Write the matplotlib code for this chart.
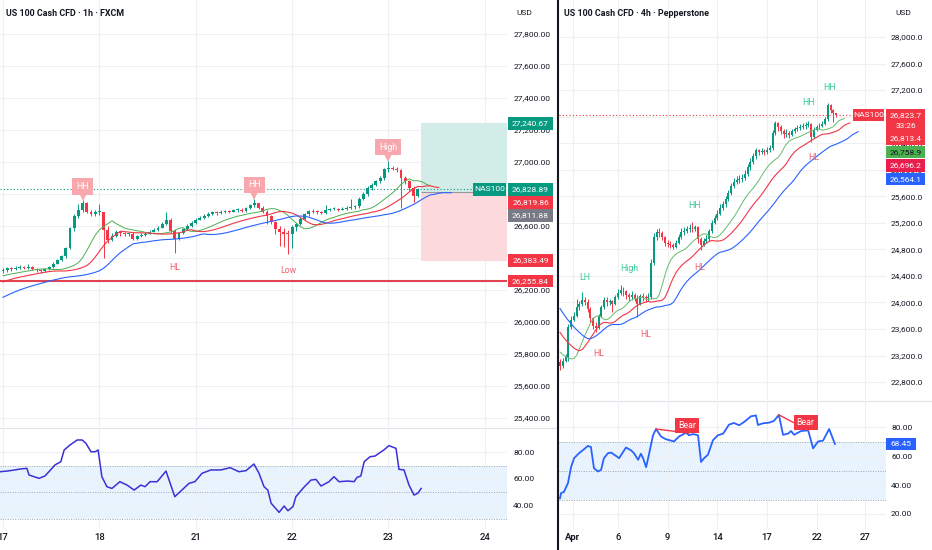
import matplotlib
matplotlib.use('Agg')
import matplotlib.pyplot as plt
import matplotlib.transforms as mtransforms
from matplotlib.patches import Rectangle
from matplotlib.lines import Line2D
import numpy as np

plt.rcParams['font.family'] = ['Roboto', 'DejaVu Sans']

W, H = 932, 550
UP = '#089981'
DOWN = '#f23645'
TXT = '#131722'
GRID = '#eef0f4'

# ---------------- left chart: US100 1h (FXCM) ----------------
l_open0 = 26320
l_close = [26325, 26335, 26330, 26338, 26342, 26340, 26345, 26330, 26322, 26316,
           26330, 26345, 26365, 26385, 26410, 26460, 26585, 26660, 26700, 26745,
           26690, 26672, 26685, 26690, 26575, 26515, 26540, 26560, 26555, 26548,
           26552, 26520, 26535, 26545, 26550, 26565, 26575, 26588, 26610, 26640,
           26570, 26520, 26555, 26580, 26600, 26620, 26640, 26652, 26665, 26675,
           26685, 26680, 26688, 26694, 26690, 26698, 26702, 26696, 26712, 26730,
           26742, 26715, 26690, 26662, 26625, 26580, 26560, 26552, 26548, 26595,
           26612, 26645, 26672, 26692, 26690, 26688, 26680, 26698, 26705, 26708,
           26702, 26707, 26712, 26716, 26722, 26770, 26800, 26838, 26855, 26880,
           26898, 26955, 26962, 26958, 26950, 26900, 26880, 26835, 26790, 26829]
l_high = [26340, 26345, 26345, 26350, 26355, 26352, 26360, 26350, 26340, 26330,
          26338, 26352, 26372, 26395, 26420, 26470, 26595, 26675, 26740, 26760,
          26750, 26700, 26700, 26740, 26690, 26600, 26555, 26575, 26570, 26565,
          26565, 26560, 26545, 26555, 26560, 26575, 26585, 26600, 26625, 26685,
          26650, 26580, 26565, 26590, 26610, 26630, 26650, 26662, 26675, 26685,
          26695, 26692, 26698, 26702, 26700, 26708, 26712, 26715, 26720, 26740,
          26768, 26745, 26725, 26700, 26670, 26630, 26600, 26590, 26575, 26605,
          26620, 26655, 26680, 26700, 26705, 26700, 26695, 26730, 26715, 26718,
          26715, 26716, 26722, 26770, 26732, 26780, 26810, 26850, 26870, 26890,
          26910, 26965, 27005, 26975, 26966, 26956, 26910, 26885, 26850, 26840]
l_low = [26305, 26315, 26320, 26325, 26330, 26330, 26332, 26322, 26312, 26305,
         26310, 26325, 26340, 26360, 26380, 26400, 26455, 26570, 26650, 26690,
         26680, 26660, 26665, 26670, 26400, 26495, 26505, 26530, 26540, 26535,
         26540, 26510, 26515, 26530, 26540, 26550, 26560, 26570, 26585, 26605,
         26555, 26430, 26515, 26550, 26575, 26595, 26615, 26635, 26645, 26658,
         26668, 26670, 26675, 26682, 26680, 26685, 26690, 26685, 26690, 26705,
         26720, 26705, 26680, 26610, 26610, 26550, 26475, 26470, 26425, 26460,
         26570, 26605, 26640, 26665, 26680, 26678, 26672, 26675, 26692, 26698,
         26694, 26698, 26700, 26704, 26708, 26712, 26762, 26790, 26828, 26848,
         26870, 26890, 26940, 26948, 26940, 26710, 26860, 26820, 26750, 26780]
l_seeds = [26280, 26240, 26140]   # lips, teeth, jaw start values

l_rsi_bar = [-0.7, 1, 2.6, 4.1, 5.7, 6.2, 7.4, 8.6, 10, 11.2, 12.4, 13.8, 14.6, 16, 17.7,
             18.9, 19.8, 21, 22, 22.7, 23.6, 24.8, 26, 27.9, 29.6, 31.3, 32.9, 33.9, 35.1,
             36.8, 38.9, 41, 42.7, 44.4, 45.8, 47.5, 49.6, 52, 54.2, 56.3, 58, 59.9, 61.1,
             62.3, 63.2, 64, 65.9, 67.1, 68, 69.2, 69.9, 71.8, 73.5, 74.7, 75.9, 77.8, 79,
             80.2, 82.3, 83.8, 84.5, 85.4, 86.2, 87.6, 88.8, 89.7, 90.9, 92.1, 93.8, 94.5,
             95.7, 96.9, 98.1, 99, 99.8]
l_rsi = [65.4, 65.9, 66.6, 67.4, 67.9, 63.0, 61.7, 60.5, 62.2, 66.2, 70.4, 72.8, 81.5, 85.2,
         88.9, 88.9, 86.4, 80.2, 80.2, 81.5, 61.7, 54.3, 53.0, 58.0, 55.5, 51.8, 55.5, 54.3,
         58.0, 58.0, 65.9, 46.9, 51.8, 56.8, 58.0, 64.2, 66.7, 66.7, 68.4, 65.4, 66.2, 71.1,
         64.2, 54.3, 51.8, 42.0, 35.3, 40.0, 36.5, 39.5, 46.9, 53.8, 59.2, 59.7, 54.8, 58.0,
         61.7, 58.0, 58.5, 58.0, 61.2, 62.2, 72.8, 76.5, 77.0, 79.0, 81.5, 84.7, 82.7, 67.2,
         66.7, 55.5, 48.1, 49.4, 53.0]

l_day_bar = [0, 23, 46, 69, 92, 115]
l_day_lbl = ['17', '18', '21', '22', '23', '24']
l_price_ticks = list(range(25400, 27801, 200))

l_last = 26828.89
l_support = 26255.84
l_entry, l_target, l_stop = 26811.88, 27240.67, 26383.49
l_pos_start = 99.8

# ---------------- right chart: US100 4h (Pepperstone) ----------------
r_open0 = 23100
r_close = [23040, 23120, 23180, 23630, 23740, 23800, 23930, 23970, 24040, 24010,
           23900, 23760, 23640, 23620, 23800, 23930, 24040, 24000, 24020, 23980,
           24080, 24150, 24190, 24170, 24110, 24080, 24120, 24060, 23980, 24100,
           24080, 24070, 24080, 24600, 24990, 25060, 25040, 24980, 24900, 24880,
           24860, 24840, 24900, 24990, 25060, 25080, 25100, 25120, 25110, 25130,
           24950, 24870, 24930, 24960, 25080, 25200, 25270, 25340, 25420, 25480,
           25560, 25650, 25760, 25820, 25840, 25860, 25880, 25940, 26040, 26120,
           26200, 26290, 26260, 26280, 26270, 26300, 26330, 26560, 26700, 26640,
           26590, 26540, 26560, 26530, 26580, 26610, 26630, 26650, 26660, 26670,
           26690, 26500, 26600, 26640, 26660, 26690, 26760, 26970, 26900, 26850,
           26824]
r_high = [23150, 23170, 23230, 23680, 23790, 23860, 24050, 24030, 24160, 24080,
          24050, 23930, 23780, 23700, 23830, 23960, 24080, 24080, 24060, 24040,
          24120, 24200, 24270, 24230, 24190, 24150, 24170, 24150, 24120, 24130,
          24140, 24120, 24140, 24650, 25040, 25100, 25120, 25070, 25000, 24940,
          24920, 24900, 24940, 25030, 25120, 25140, 25160, 25180, 25210, 25170,
          25150, 24980, 24970, 25010, 25110, 25250, 25320, 25400, 25480, 25530,
          25600, 25690, 25800, 25870, 25900, 25920, 25930, 25990, 26090, 26170,
          26250, 26330, 26320, 26330, 26320, 26340, 26370, 26600, 26740, 26720,
          26680, 26620, 26610, 26590, 26620, 26650, 26680, 26690, 26700, 26720,
          26740, 26710, 26640, 26680, 26700, 26730, 26800, 27010, 26990, 26920,
          26860]
r_low = [22990, 23020, 23100, 23120, 23600, 23720, 23780, 23890, 23950, 23960,
         23860, 23700, 23600, 23560, 23600, 23780, 23900, 23950, 23960, 23850,
         23960, 24050, 24120, 24100, 24060, 24030, 24040, 24020, 23780, 23960,
         24020, 24000, 24030, 24060, 24560, 24940, 24980, 24940, 24850, 24830,
         24820, 24800, 24820, 24880, 24960, 25020, 25040, 25060, 25060, 25070,
         24900, 24790, 24850, 24900, 24930, 25050, 25180, 25240, 25320, 25400,
         25440, 25530, 25620, 25720, 25780, 25800, 25820, 25840, 25900, 26000,
         26090, 26160, 26220, 26230, 26220, 26240, 26270, 26300, 26520, 26580,
         26540, 26480, 26500, 26480, 26510, 26560, 26580, 26600, 26610, 26620,
         26640, 26420, 26480, 26580, 26610, 26640, 26670, 26740, 26850, 26720,
         26800]
r_seeds = [23300, 23620, 23980]

r_rsi_bar = [0, 0.4, 1.4, 2.9, 4, 5.1, 6.9, 8.7, 10.1, 11.2, 12.3, 13.8, 14.9, 15.9, 17.4,
             18.5, 20.3, 21.4, 23.9, 25.7, 26.8, 28.3, 29.3, 30.1, 31.2, 32.2, 33.7, 34.8,
             36.6, 38.4, 40.2, 41.3, 43.1, 45.7, 46.7, 48.2, 50, 51.1, 52.2, 53.6, 55.4, 57.2,
             59.1, 61.2, 63, 64.9, 66.7, 69.2, 71, 71.7, 73.6, 75.7, 77.5, 79.3, 80.8, 82.6,
             83.7, 84.8, 87.3, 89.9, 91.7, 93.5, 95.3, 97.5, 99.6]
r_rsi = [30.9, 34.5, 35.2, 41.4, 52.4, 58.6, 62.1, 64.8, 67.1, 66.4, 51.7, 49.4, 50.6, 58.6,
         62.1, 62.5, 60.2, 58.6, 66.0, 64.1, 62.1, 57.5, 61.7, 58.6, 52.4, 61.0, 74.5, 78.8,
         73.6, 71.7, 70.8, 70.2, 73.6, 76.3, 74.5, 75.3, 74.5, 56.0, 58.6, 61.0, 71.0, 74.5,
         75.6, 81.8, 83.0, 81.4, 83.7, 87.6, 88.2, 81.6, 82.8, 83.2, 84.4, 88.6, 74.8, 75.6,
         77.4, 74.8, 77.4, 77.9, 65.4, 70.2, 70.8, 78.8, 68.45]
r_bear = [((34.8, 78.8), (46.7, 76.0)), ((79.3, 88.6), (89.9, 78.0))]
r_bear_lbl = [(46.0, 81.4), (89.0, 83.3)]

r_day_bar = [4.7, 21, 39, 57, 75, 93, 110.5]
r_day_lbl = ['Apr', '6', '9', '14', '17', '22', '27']
r_price_ticks = list(range(22800, 28001, 400))
r_last = 26823.7

# swing labels (bar, price, text)
l_swing_boxes = [(19, 'HH'), (60, 'HH'), (92, 'High')]
l_swing_text = [(41, 26338, 'HL'), (68, 26319, 'Low')]
r_swing_up = [(97.5, 27232, 'HH'), (89.9, 27006, 'HH'), (48.9, 25454, 'HH'),
              (25, 24505, 'High'), (9, 24384, 'LH')]
r_swing_dn = [(92, 26192, 'HL'), (50.7, 24520, 'HL'), (31.2, 23525, 'HL'), (14.1, 23239, 'HL')]

fig = plt.figure(figsize=(W / 100, H / 100), dpi=100)
fig.patch.set_facecolor('white')


def px_axes(x0, y0, x1, y1):
    ax = fig.add_axes([x0 / W, 1 - y1 / H, (x1 - x0) / W, (y1 - y0) / H])
    for s in ax.spines.values():
        s.set_visible(False)
    ax.set_facecolor('none')
    ax.set_axisbelow(True)
    return ax


def draw_candles(ax, o0, closes, highs, lows, width, min_h):
    closes = np.array(closes, float)
    opens = np.concatenate([[o0], closes[:-1]])
    x = np.arange(len(closes))
    colors = np.where(closes >= opens, UP, DOWN)
    ax.vlines(x, lows, highs, colors=colors, lw=0.7, zorder=3)
    bottom = np.minimum(opens, closes)
    height = np.maximum(np.abs(closes - opens), min_h)
    ax.bar(x, height, width, bottom=bottom, color=colors, lw=0, zorder=4)


def alligator(ax, highs, lows, seeds, colors, widths):
    hl2 = (np.array(highs, float) + np.array(lows, float)) / 2
    for (n, shift), seed, c, lw in zip([(5, 3), (8, 5), (13, 8)], seeds, colors, widths):
        src = np.concatenate([np.full(shift, hl2[0]), hl2])
        s = seed
        vals = []
        for v in src:
            s = (s * (n - 1) + v) / n
            vals.append(s)
        ax.plot(np.arange(len(vals)), vals, color=c, lw=lw, zorder=5)


def y_of(ax, value):
    return H - ax.transData.transform((0, value))[1]


def tag(yc, text, fc, x0, x1, tc='white', h=12.5):
    fig.add_artist(Rectangle((x0 / W, 1 - (yc + h / 2) / H), (x1 - x0) / W, h / H,
                             transform=fig.transFigure, fc=fc, ec='none', zorder=10))
    fig.text((x0 + x1) / 2 / W, 1 - yc / H, text, ha='center', va='center',
             fontsize=6, color=tc, zorder=11)


def style_price(ax, ticks, fmt, pad):
    ax.yaxis.tick_right()
    ax.set_yticks(ticks)
    ax.set_yticklabels([fmt.format(v) for v in ticks])
    ax.tick_params(axis='y', length=0, pad=pad, labelsize=6, labelcolor=TXT)
    ax.grid(True, color=GRID, lw=0.8)


# ---------- left main ----------
axL = px_axes(0, 0, 507, 427)
axL.set_xlim(-0.716, 120.29)
axL.set_ylim(25343.75, 28012.5)
style_price(axL, l_price_ticks, '{:,.2f}', 4.5)
axL.set_xticks(l_day_bar)
axL.tick_params(axis='x', length=0, labelbottom=False)

axL.add_patch(Rectangle((l_pos_start, l_entry), 120.29 - l_pos_start, l_target - l_entry,
                        fc='#d2ede7', ec='none', zorder=1))
axL.add_patch(Rectangle((l_pos_start, l_stop), 120.29 - l_pos_start, l_entry - l_stop,
                        fc='#fcd9dc', ec='none', zorder=1))
axL.hlines(l_entry, l_pos_start, 113, color='#9598a1', lw=0.8, zorder=2)
axL.axhline(l_support, color='#e04450', lw=1.5, zorder=2)
axL.axhline(l_last, color=UP, lw=0.8, ls=(0, (1, 2)), zorder=2)

draw_candles(axL, l_open0, l_close, l_high, l_low, 0.68, 6)
alligator(axL, l_high, l_low, l_seeds, ['#4caf50', '#f23645', '#2962ff'], [0.7, 0.8, 0.8])

for bar, txt in l_swing_boxes:
    tip = l_high[bar]
    axL.annotate(txt, xy=(bar, tip), xytext=(0, 10.2), textcoords='offset points',
                 ha='center', va='center', fontsize=6.3, color='white', zorder=7,
                 bbox=dict(boxstyle='square,pad=0.45', fc='#f8a8ad', ec='none'))
    tr = mtransforms.offset_copy(axL.transData, fig=fig, x=0, y=2.6, units='points')
    axL.plot(bar, tip, marker='v', ms=5.2, color='#f8a8ad', mew=0, transform=tr, zorder=7)
for bar, p, txt in l_swing_text:
    axL.text(bar, p, txt, ha='center', va='center', fontsize=6.3, color='#f0616c', zorder=7)

# ---------- left RSI ----------
axLr = px_axes(0, 428, 507, 529)
axLr.set_xlim(-0.716, 120.29)
axLr.set_ylim(22.96, 97.78)
style_price(axLr, [40, 60, 80], '{:.2f}', 4.5)
axLr.axhspan(30, 70, color='#e8f3fd', lw=0, zorder=0)
for v in (70, 50, 30):
    axLr.axhline(v, color='#a3a6ae', lw=0.7, ls=(0, (1, 1.5)), zorder=1)
axLr.plot(l_rsi_bar, l_rsi, color='#3b30d6', lw=1.1, zorder=4)
axLr.set_xticks(l_day_bar)
axLr.set_xticklabels(l_day_lbl, fontweight='medium')
axLr.tick_params(axis='x', length=0, pad=3.2, labelsize=6.8, labelcolor=TXT)

# ---------- right main ----------
axR = px_axes(559, 0, 886, 400)
axR.set_xlim(-0.36, 118.1)
axR.set_ylim(22531, 28557.4)
style_price(axR, r_price_ticks, '{:,.1f}', 3.6)
axR.set_xticks(r_day_bar)
axR.tick_params(axis='x', length=0, labelbottom=False)
axR.axhline(r_last, color=DOWN, lw=0.8, ls=(0, (1, 2)), zorder=2)
draw_candles(axR, r_open0, r_close, r_high, r_low, 0.7, 15)
alligator(axR, r_high, r_low, r_seeds, ['#66bb6a', '#f23645', '#2962ff'], [0.7, 0.8, 0.8])
for bar, p, txt in r_swing_up:
    axR.text(bar, p, txt, ha='center', va='center', fontsize=6.3, color='#35c99a', zorder=7)
for bar, p, txt in r_swing_dn:
    axR.text(bar, p, txt, ha='center', va='center', fontsize=6.3, color='#f0616c', zorder=7)

# ---------- right RSI ----------
axRr = px_axes(559, 401, 886, 529)
axRr.set_xlim(-0.36, 118.1)
axRr.set_ylim(9.6, 98.2)
style_price(axRr, [20, 40, 60, 80], '{:.2f}', 3.6)
axRr.axhspan(30, 70, color='#e8f3fd', lw=0, zorder=0)
for v in (70, 50, 30):
    axRr.axhline(v, color='#a3a6ae', lw=0.7, ls=(0, (1, 1.5)), zorder=1)
axRr.plot(r_rsi_bar, r_rsi, color='#2962ff', lw=1.3, zorder=4)
for (a, b) in r_bear:
    axRr.plot([a[0], b[0]], [a[1], b[1]], color=DOWN, lw=1, zorder=5)
for bx, by in r_bear_lbl:
    axRr.text(bx, by, 'Bear', ha='center', va='center', fontsize=6.3, color='white', zorder=6,
              bbox=dict(boxstyle='square,pad=0.35', fc=DOWN, ec='none'))
axRr.set_xticks(r_day_bar)
axRr.set_xticklabels(r_day_lbl, fontweight='medium')
axRr.tick_params(axis='x', length=0, pad=3.2, labelsize=6.8, labelcolor=TXT)
axRr.get_xticklabels()[0].set_fontweight('bold')

# ---------- axis tags ----------
left_tags = [(l_target, '27,240.67', UP), (l_last, '26,828.89', UP),
             (26819.86, '26,819.86', DOWN), (l_entry, '26,811.88', '#787b86'),
             (l_stop, '26,383.49', DOWN), (l_support, '26,255.84', DOWN)]
prev = -100
for val, txt, fc in left_tags:
    yc = max(y_of(axL, val), prev + 13)
    prev = yc
    tag(yc, txt, fc, 508, 553)
    if txt == '26,828.89':
        tag(yc, 'NAS100', UP, 473, 506)

y0 = y_of(axR, r_last)
fig.add_artist(Rectangle((886 / W, 1 - (y0 + 17) / H), 39 / W, 23 / H,
                         transform=fig.transFigure, fc=DOWN, ec='none', zorder=10))
fig.text(905.5 / W, 1 - y0 / H, '26,823.7', ha='center', va='center', fontsize=6,
         color='white', zorder=11)
fig.text(905.5 / W, 1 - (y0 + 11) / H, '33:26', ha='center', va='center', fontsize=6,
         color='white', zorder=11)
tag(y0, 'NAS100', DOWN, 853, 884)
right_tags = [('26,813.4', DOWN, 'white'), ('26,758.9', '#4caf50', TXT),
              ('26,696.2', '#e91e4d', 'white'), ('26,564.1', '#2962ff', 'white')]
yc = y0 + 17 + 6.5
for txt, fc, tc in right_tags:
    tag(yc, txt, fc, 886, 925, tc=tc)
    yc += 13.5
tag(y_of(axRr, 68.45), '68.45', '#2962ff', 886, 916)

# ---------- titles, separators ----------
fig.text(6 / W, 1 - 13 / H, 'US 100 Cash CFD · 1h · FXCM', fontsize=6.4, fontweight='bold',
         color=TXT, va='center')
fig.text(564 / W, 1 - 13 / H, 'US 100 Cash CFD · 4h · Pepperstone', fontsize=6.4,
         fontweight='bold', color=TXT, va='center')
fig.text(516 / W, 1 - 13 / H, 'USD', fontsize=6, color=TXT, va='center')
fig.text(895 / W, 1 - 13 / H, 'USD', fontsize=6, color=TXT, va='center')

fig.add_artist(Line2D([0, 556 / W], [1 - 427.5 / H] * 2, transform=fig.transFigure,
                      color='#e0e3eb', lw=0.8))
fig.add_artist(Line2D([560 / W, 1], [1 - 400.5 / H] * 2, transform=fig.transFigure,
                      color='#e0e3eb', lw=0.8))
fig.add_artist(Line2D([558 / W] * 2, [0, 1], transform=fig.transFigure, color=TXT, lw=1.5))

fig.savefig('out.png', dpi=100)
